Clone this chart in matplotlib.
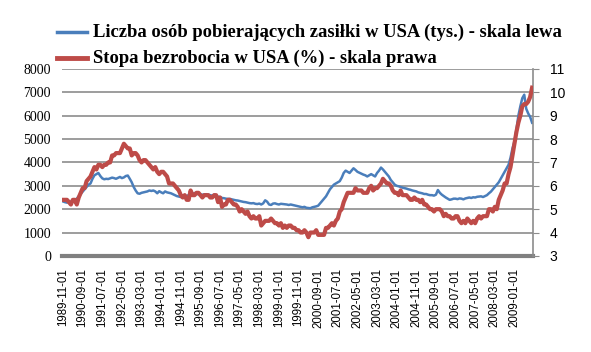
import numpy as np
import pandas as pd
import matplotlib
matplotlib.use('Agg')
import matplotlib.pyplot as plt

# miesiące 1989-11 .. 2009-10
months = pd.date_range('1989-11-01', '2009-10-01', freq='MS')

# liczba osób pobierających zasiłki (tys.) - skala lewa
claims = [
    2330, 2300,
    2280, 2350, 2300, 2380, 2400, 2450, 2550, 2650, 2750, 2850, 2950, 3050,
    3100, 3300, 3450, 3500, 3550, 3420, 3320, 3280, 3300, 3290, 3320, 3350,
    3330, 3300, 3340, 3380, 3330, 3360, 3420, 3440, 3300, 3150, 2950, 2800,
    2680, 2660, 2700, 2720, 2740, 2760, 2800, 2780, 2800, 2760, 2680, 2770,
    2720, 2680, 2760, 2720, 2700, 2680, 2640, 2600, 2560, 2540, 2520, 2520,
    2540, 2570, 2600, 2680, 2650, 2690, 2650, 2640, 2630, 2620, 2630, 2640,
    2620, 2600, 2580, 2620, 2560, 2540, 2520, 2480, 2470, 2450, 2440, 2440,
    2420, 2400, 2380, 2370, 2350, 2330, 2310, 2300, 2280, 2260, 2250, 2260,
    2230, 2220, 2240, 2200, 2250, 2380, 2320, 2200, 2180, 2240, 2250, 2220,
    2200, 2230, 2220, 2210, 2200, 2180, 2200, 2180, 2160, 2140, 2120, 2100,
    2080, 2100, 2060, 2050, 2040, 2080, 2100, 2120, 2150, 2250, 2350, 2450,
    2550, 2700, 2850, 2950, 3050, 3100, 3150, 3200, 3350, 3550, 3650, 3600,
    3550, 3650, 3750, 3680, 3600, 3560, 3520, 3480, 3450, 3400, 3450, 3500,
    3450, 3400, 3550, 3650, 3780, 3700, 3600, 3500, 3400, 3250, 3150, 3050,
    3000, 2980, 2950, 2920, 2900, 2880, 2850, 2830, 2800, 2780, 2760, 2720,
    2700, 2680, 2650, 2650, 2620, 2600, 2600, 2580, 2620, 2820, 2700, 2620,
    2560, 2500, 2450, 2400, 2420, 2450, 2450, 2430, 2460, 2450, 2420, 2460,
    2480, 2500, 2480, 2510, 2500, 2530, 2540, 2550, 2520, 2560, 2600, 2680,
    2750, 2850, 2950, 3050, 3150, 3300, 3450, 3600, 3750, 3900, 4200, 4600,
    4900, 5400, 6000, 6400, 6750, 6900, 6300, 6100, 5950, 5700,
]

# stopa bezrobocia (%) - skala prawa
unemp = [
    5.4, 5.4,
    5.4, 5.3, 5.2, 5.4, 5.4, 5.2, 5.5, 5.7, 5.9, 5.9, 6.2, 6.3,
    6.4, 6.6, 6.8, 6.7, 6.9, 6.9, 6.8, 6.9, 6.9, 7.0, 7.0, 7.3,
    7.3, 7.4, 7.4, 7.4, 7.6, 7.8, 7.7, 7.6, 7.6, 7.3, 7.4, 7.4,
    7.3, 7.1, 7.0, 7.1, 7.1, 7.0, 6.9, 6.8, 6.7, 6.8, 6.6, 6.5,
    6.6, 6.6, 6.5, 6.4, 6.1, 6.1, 6.1, 6.0, 5.9, 5.8, 5.6, 5.5,
    5.6, 5.4, 5.4, 5.8, 5.6, 5.6, 5.7, 5.7, 5.6, 5.5, 5.6, 5.6,
    5.6, 5.5, 5.5, 5.6, 5.6, 5.3, 5.5, 5.1, 5.2, 5.2, 5.4, 5.4,
    5.3, 5.2, 5.2, 5.1, 4.9, 5.0, 4.9, 4.8, 4.9, 4.7, 4.6, 4.7,
    4.6, 4.6, 4.7, 4.3, 4.4, 4.5, 4.5, 4.5, 4.6, 4.5, 4.4, 4.4,
    4.3, 4.4, 4.2, 4.3, 4.2, 4.3, 4.3, 4.2, 4.2, 4.1, 4.1, 4.0,
    4.0, 4.1, 4.0, 3.8, 4.0, 4.0, 4.0, 4.1, 3.9, 3.9, 3.9, 3.9,
    4.2, 4.2, 4.3, 4.4, 4.3, 4.5, 4.6, 4.9, 5.0, 5.3, 5.5, 5.7,
    5.7, 5.7, 5.7, 5.9, 5.8, 5.8, 5.8, 5.7, 5.7, 5.7, 5.9, 6.0,
    5.8, 5.9, 5.9, 6.0, 6.1, 6.3, 6.2, 6.1, 6.1, 6.0, 5.8, 5.7,
    5.7, 5.6, 5.8, 5.6, 5.6, 5.6, 5.5, 5.4, 5.4, 5.5, 5.4, 5.4,
    5.3, 5.4, 5.2, 5.2, 5.1, 5.0, 5.0, 4.9, 5.0, 5.0, 5.0, 4.9,
    4.7, 4.8, 4.7, 4.7, 4.6, 4.6, 4.7, 4.7, 4.5, 4.4, 4.5, 4.4,
    4.6, 4.5, 4.4, 4.5, 4.4, 4.6, 4.7, 4.6, 4.7, 4.7, 4.7, 5.0,
    5.0, 4.9, 5.1, 5.0, 5.4, 5.6, 5.8, 6.1, 6.1, 6.5, 6.8, 7.3,
    7.8, 8.3, 8.7, 9.0, 9.4, 9.5, 9.5, 9.6, 9.8, 10.2,
]

labels = [d.strftime('%Y-%m-%d') for d in months]
x = np.arange(len(months))

blue = '#4A7EBB'
red = '#BE4B48'
grid_c = '#8C8C8C'

fig = plt.figure(figsize=(5.91, 3.52), dpi=100)
ax = fig.add_axes([0.105, 0.273, 0.797, 0.531])
ax2 = ax.twinx()

ax.plot(x, claims, color=blue, lw=1.8, zorder=3)
ax2.plot(x, unemp, color=red, lw=3.0, zorder=3)

ax.set_ylim(0, 8000)
ax.set_yticks(range(0, 8001, 1000))
ax2.set_ylim(3, 11)
ax2.set_yticks(range(3, 12))
ax.set_xlim(-0.5, len(x) - 0.5)

ax.grid(axis='y', color=grid_c, lw=1.2)
ax.set_axisbelow(True)
for s in ['top', 'left', 'right']:
    ax.spines[s].set_visible(False)
    ax2.spines[s].set_visible(False)
ax2.spines['bottom'].set_visible(False)
ax2.spines['right'].set_visible(True)
ax2.spines['right'].set_color(grid_c)
ax2.spines['right'].set_linewidth(1.2)
ax.spines['bottom'].set_color('#808080')
ax.spines['bottom'].set_linewidth(3)

ax.set_xticks(x[::10])
ax.set_xticklabels(labels[::10], rotation=90, fontsize=8.3,
                   family='Liberation Sans')
ax.tick_params(axis='x', length=0, pad=9)
ax.tick_params(axis='y', length=0, labelsize=10, pad=8)
for t in ax.get_yticklabels():
    t.set_family('Liberation Serif')
ax2.tick_params(axis='y', length=4, color=grid_c, labelsize=10, pad=8)
for t in ax2.get_yticklabels():
    t.set_family('Liberation Sans')

# legenda nad wykresem
fig.add_artist(plt.Line2D([0.097, 0.147], [0.909, 0.909], color=blue, lw=2.5))
fig.add_artist(plt.Line2D([0.097, 0.147], [0.835, 0.835], color=red, lw=3.5))
fig.text(0.157, 0.909, 'Liczba osób pobierających zasiłki w USA (tys.) - skala lewa',
         family='Liberation Serif', weight='bold', fontsize=13.4, va='center')
fig.text(0.157, 0.835, 'Stopa bezrobocia w USA (%) - skala prawa',
         family='Liberation Serif', weight='bold', fontsize=13.4, va='center')

plt.savefig('out.png', dpi=100)
